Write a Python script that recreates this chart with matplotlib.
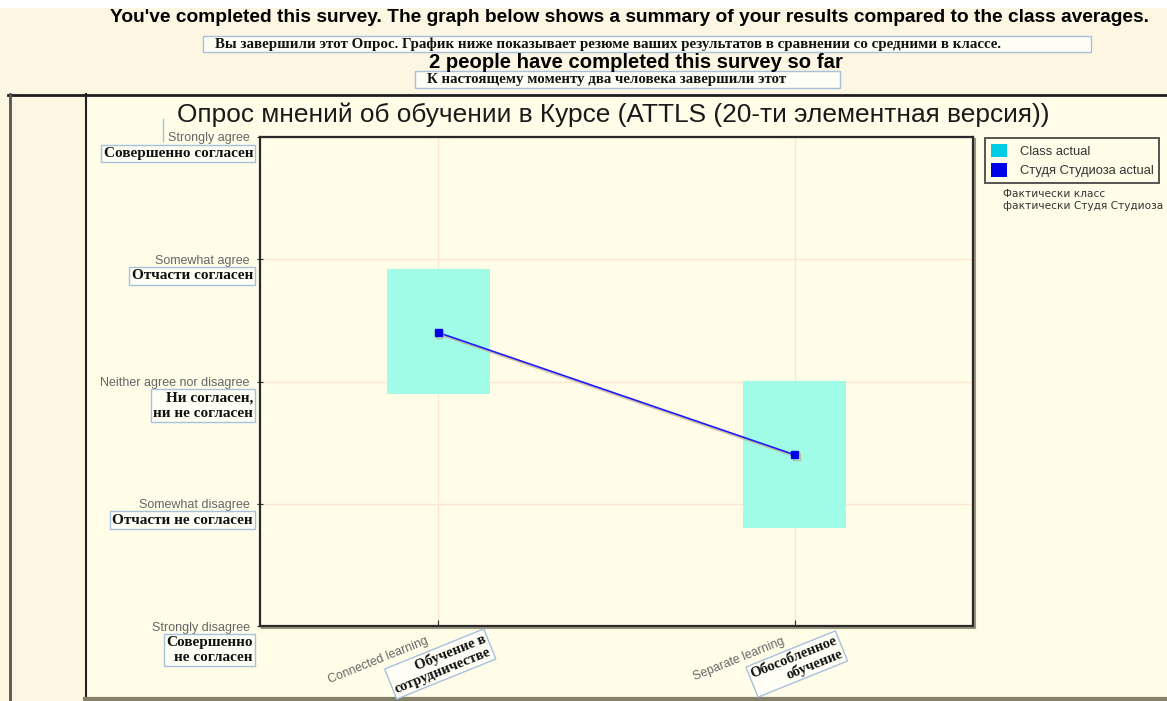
import matplotlib.pyplot as plt
import matplotlib.patheffects as pe
from matplotlib.patches import Rectangle, Patch

# data: ATTLS summary
categories = ["Connected learning", "Separate learning"]
categories_ru = ["Обучение в\nсотрудничестве", "Обособленное\nобучение"]
scale_labels = ["Strongly disagree", "Somewhat disagree", "Neither agree nor disagree",
                "Somewhat agree", "Strongly agree"]
scale_ru = ["Совершенно\nне согласен", "Отчасти не согласен", "Ни согласен,\nни не согласен",
            "Отчасти согласен", "Совершенно согласен"]
class_low = [2.9, 1.8]
class_high = [3.92, 3.0]
student = [3.4, 2.4]

W, H = 1167, 701
PAGE = "#fdf6e2"
PANEL = "#fffce8"
SANS = "Liberation Sans"
SERIF = "Liberation Serif"

fig = plt.figure(figsize=(W / 100, H / 100), dpi=100)
fig.patch.set_facecolor(PAGE)

# page background / frames in pixel coords
bg = fig.add_axes([0, 0, 1, 1])
bg.set_xlim(0, W)
bg.set_ylim(H, 0)
bg.axis("off")
bg.add_patch(Rectangle((0, 0), W, 8, fc="white", ec="none"))
bg.add_patch(Rectangle((85, 95), W - 85, 602, fc=PANEL, ec="none"))
bg.plot([8, W], [94.5, 94.5], color="#1e1e1e", lw=2)
bg.plot([9.5, 9.5], [94, H], color="#555", lw=2)
bg.plot([85.5, 85.5], [94, 697], color="#222", lw=1.5)
bg.plot([85, W], [698.5, 698.5], color="#85806a", lw=3)
bg.plot([162.5, 162.5], [119, 141], color="#a8c0dc", lw=1)

# header texts
bg.text(630, 18, "You've completed this survey. The graph below shows a summary of your results "
        "compared to the class averages.", family=SANS, weight="bold", fontsize=13.8,
        ha="center", va="center", color="black")
bg.add_patch(Rectangle((203, 36), 888, 16, fc="#fffef4", ec="#a8c0dc", lw=1))
bg.text(215, 44.5, "Вы завершили этот Опрос. График ниже показывает резюме ваших результатов "
        "в сравнении со средними в классе.", family=SERIF, weight="bold", fontsize=10.8,
        ha="left", va="center", color="#111")
bg.text(636, 62, "2 people have completed this survey so far", family=SANS, weight="bold",
        fontsize=14.6, ha="center", va="center", color="black")
bg.add_patch(Rectangle((415, 71), 425, 17, fc="#fffef4", ec="#a8c0dc", lw=1))
bg.text(427, 79.5, "К настоящему моменту два человека завершили этот", family=SERIF,
        weight="bold", fontsize=10.7, ha="left", va="center", color="#111")

# chart title
bg.text(613, 115, "Опрос мнений об обучении в Курсе (ATTLS (20-ти элементная версия))",
        family=SANS, fontsize=18.9, ha="center", va="center", color="#1a1a1a")

# plot frame shadow
ax_l, ax_t, ax_r, ax_b = 260, 137, 973, 626
bg.add_patch(Rectangle((ax_l + 2, ax_t + 2), ax_r - ax_l, ax_b - ax_t, fc="none",
                       ec="#9a9580", lw=1.5))

ax = fig.add_axes([ax_l / W, 1 - ax_b / H, (ax_r - ax_l) / W, (ax_b - ax_t) / H])
ax.set_facecolor(PANEL)
ax.set_xlim(0.5, 2.5)
ax.set_ylim(1, 5)
for s in ax.spines.values():
    s.set_color("#2a2a2a")
    s.set_linewidth(1.6)

xs = [1, 2]
ax.set_xticks(xs)
ax.set_xticklabels([])
ax.set_yticks(range(1, 6))
ax.set_yticklabels(scale_labels, family=SANS, fontsize=9, color="#666")
ax.tick_params(axis="y", direction="inout", length=5, pad=5, color="#2a2a2a")
ax.tick_params(axis="x", direction="in", length=4, color="#2a2a2a")
ax.grid(True, color="#fbe6d2", lw=1)
ax.set_axisbelow(True)

# class ranges
ax.bar(xs, [h - l for l, h in zip(class_low, class_high)], bottom=class_low, width=0.29,
       color="#a0fce6", zorder=2)
# student line
ax.plot(xs, student, color="#1a1aff", lw=1.2, marker="s", markersize=5,
        markerfacecolor="#0000e8", markeredgecolor="#0000e8", zorder=3,
        path_effects=[pe.SimpleLineShadow(offset=(1, -1.5), shadow_color="#c8a888", alpha=0.7),
                      pe.Normal()])

box = dict(boxstyle="square,pad=0.15", fc="#fffef4", ec="#a8c0dc", lw=1)

# translated scale labels
for v, txt in zip(range(1, 6), scale_ru):
    ax.annotate(txt, xy=(0, v), xycoords=("axes fraction", "data"), xytext=(-7, -10),
                textcoords="offset pixels", ha="right", va="top", multialignment="right",
                family=SERIF, weight="bold", fontsize=11, color="#111", bbox=box,
                annotation_clip=False, linespacing=1.22)

# category labels
for x, en, ru in zip(xs, categories, categories_ru):
    ax.annotate(en, xy=(x, 0), xycoords=("data", "axes fraction"), xytext=(-13, -9),
                textcoords="offset pixels", ha="right", va="top", rotation=22,
                rotation_mode="anchor", family=SANS, fontsize=8.8, color="#666",
                annotation_clip=False)
    ax.annotate(ru, xy=(x, 0), xycoords=("data", "axes fraction"), xytext=(2, -38),
                textcoords="offset pixels", ha="center", va="center", rotation=22,
                multialignment="right", family=SERIF, weight="bold", fontsize=10.5,
                color="#111", bbox=dict(box, pad=0.1), annotation_clip=False,
                linespacing=1.1)

# legend
handles = [Patch(fc="#00cce8", ec="none"), Patch(fc="#0000e8", ec="none")]
leg = fig.legend(handles, ["Class actual", "Студя Студиоза actual"], loc="upper left",
                 bbox_to_anchor=(985 / W, 1 - 138 / H), frameon=True, fancybox=False,
                 prop={"family": SANS, "size": 9.3}, handlelength=1.25, handleheight=1.25,
                 handletextpad=1.0, borderpad=0.45, labelspacing=0.4, borderaxespad=0)
leg.get_frame().set_edgecolor("#2a2a2a")
leg.get_frame().set_facecolor(PANEL)
leg.get_frame().set_linewidth(1.4)
for t in leg.get_texts():
    t.set_color("#333")
bg.text(1003, 200, "Фактически класс\nфактически Студя Студиоза", family="DejaVu Sans",
        fontsize=7.6, ha="left", va="center", color="#333", linespacing=1.2)

fig.savefig("out.png", dpi=100, facecolor=fig.get_facecolor())
